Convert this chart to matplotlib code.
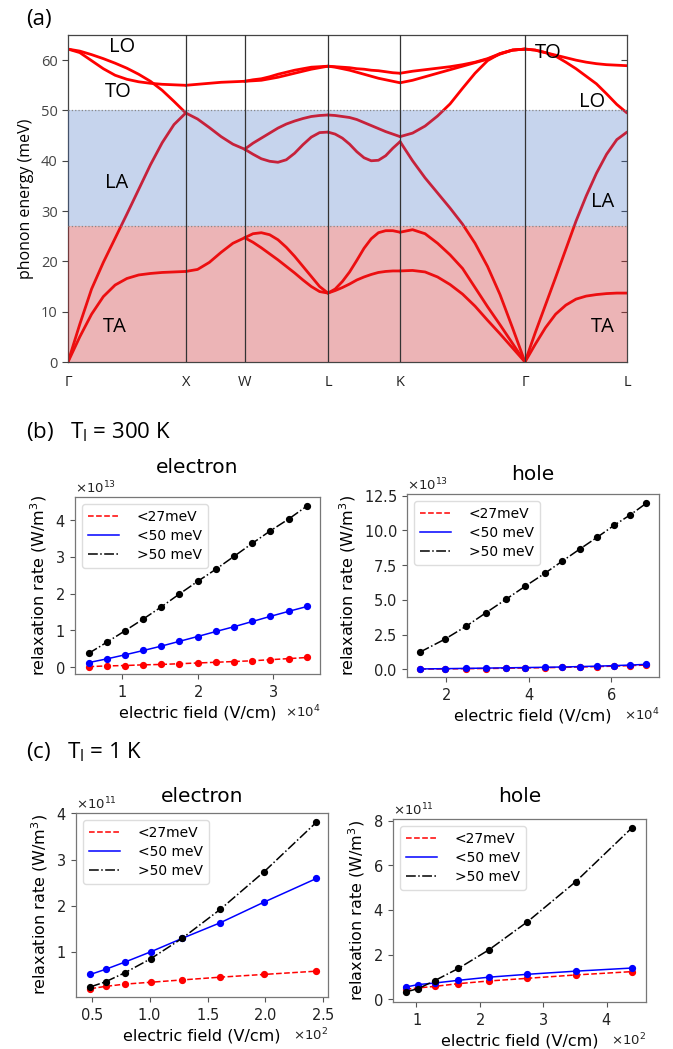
import numpy as np
import matplotlib
matplotlib.use('Agg')
import matplotlib.pyplot as plt
from matplotlib.ticker import ScalarFormatter

plt.rcParams['font.family'] = ['DejaVu Sans']

### (a) phonon dispersion, energies (meV) sampled evenly along each path segment
sym_labels = ['Γ', 'X', 'W', 'L', 'K', 'Γ', 'L']
seg_lengths = [1.0, 0.5, 0.7071, 0.6124, 1.0607, 0.8660]  # 2pi/a

seg_gx = [
    [0, 5.0, 9.5, 13.0, 15.3, 16.6, 17.3, 17.6, 17.8, 17.9, 18.0],
    [0, 7.5, 14.5, 19.8, 24.6, 29.4, 34.3, 39.2, 43.6, 47.2, 49.5],
    [62.2, 61.5, 59.9, 58.3, 57.0, 56.2, 55.7, 55.4, 55.2, 55.1, 55.0],
    [62.2, 61.8, 61.1, 60.3, 59.4, 58.4, 57.2, 55.8, 54.0, 51.8, 49.5],
]
seg_xw = [
    [18.0, 18.4, 19.8, 21.8, 23.6, 24.7],
    [49.5, 48.3, 46.6, 44.8, 43.3, 42.3],
    [55.0, 55.2, 55.4, 55.6, 55.7, 55.8],
]
seg_wl = [
    [24.7, 23.8, 22.7, 21.5, 20.3, 19.0, 17.7, 16.3, 15.0, 14.0, 13.7],
    [24.7, 25.5, 25.7, 25.3, 24.3, 22.8, 21.0, 19.0, 17.0, 15.0, 13.7],
    [42.3, 41.3, 40.4, 39.9, 39.7, 40.2, 41.5, 43.2, 44.7, 45.6, 45.7],
    [42.3, 43.5, 44.5, 45.5, 46.5, 47.3, 47.9, 48.4, 48.8, 49.0, 49.1],
    [55.8, 56.1, 56.3, 56.7, 57.2, 57.6, 58.0, 58.3, 58.6, 58.7, 58.8],
    [55.8, 55.9, 56.0, 56.3, 56.6, 57.0, 57.4, 57.8, 58.2, 58.5, 58.8],
]
seg_lk = [
    [13.7, 14.2, 14.8, 15.5, 16.3, 16.9, 17.4, 17.8, 18.0, 18.1, 18.1],
    [13.7, 14.5, 16.0, 17.9, 20.2, 22.6, 24.5, 25.7, 26.1, 26.1, 25.8],
    [45.7, 45.3, 44.5, 43.3, 41.8, 40.6, 40.0, 40.1, 41.0, 42.5, 43.8],
    [49.1, 49.0, 48.8, 48.6, 48.2, 47.6, 47.0, 46.4, 45.8, 45.3, 44.8],
    [58.8, 58.7, 58.6, 58.5, 58.3, 58.2, 58.0, 57.9, 57.7, 57.5, 57.4],
    [58.8, 58.6, 58.3, 58.0, 57.6, 57.2, 56.8, 56.4, 56.1, 55.8, 55.5],
]
seg_kg = [
    [18.1, 18.2, 17.9, 16.9, 15.4, 13.5, 11.1, 8.3, 5.6, 2.8, 0],
    [25.8, 26.3, 25.5, 23.6, 21.3, 18.6, 14.8, 11.0, 7.4, 3.7, 0],
    [43.8, 40.0, 36.6, 33.6, 30.6, 27.4, 23.6, 19.0, 13.4, 6.8, 0],
    [44.8, 45.5, 46.9, 48.9, 51.3, 54.4, 57.4, 59.9, 61.3, 62.0, 62.2],
    [57.4, 57.8, 58.1, 58.4, 58.7, 59.1, 59.6, 60.3, 61.3, 62.0, 62.2],
    [55.5, 56.0, 56.7, 57.4, 58.1, 58.8, 59.5, 60.2, 61.2, 62.0, 62.2],
]
seg_gl = [
    [0, 3.5, 6.8, 9.5, 11.3, 12.5, 13.1, 13.4, 13.6, 13.7, 13.7],
    [0, 5.8, 11.3, 16.8, 22.4, 28.0, 33.0, 37.5, 41.3, 44.2, 45.7],
    [62.2, 62.0, 61.5, 61.0, 60.5, 60.0, 59.6, 59.3, 59.1, 59.0, 58.9],
    [62.2, 62.0, 61.5, 60.8, 59.6, 58.3, 56.8, 55.3, 53.3, 51.2, 49.5],
]
segments = [seg_gx, seg_xw, seg_wl, seg_lk, seg_kg, seg_gl]

e_cut_low = 27   # meV
e_cut_high = 50

### (b) T = 300 K, field in 1e4 V/cm, rate in 1e13 W/m^3
field_b_e = [0.55, 0.79, 1.03, 1.28, 1.52, 1.76, 2.00, 2.25, 2.49, 2.73, 2.97, 3.22, 3.46]
low_b_e = [0.01, 0.03, 0.04, 0.06, 0.07, 0.09, 0.11, 0.13, 0.15, 0.17, 0.20, 0.23, 0.26]
mid_b_e = [0.12, 0.22, 0.33, 0.45, 0.57, 0.70, 0.83, 0.97, 1.10, 1.24, 1.38, 1.52, 1.65]
high_b_e = [0.37, 0.67, 0.98, 1.31, 1.64, 1.99, 2.33, 2.67, 3.02, 3.37, 3.71, 4.04, 4.39]

field_b_h = [1.37, 1.96, 2.48, 2.97, 3.45, 3.91, 4.38, 4.81, 5.23, 5.66, 6.06, 6.46, 6.84]
low_b_h = [0.02, 0.03, 0.05, 0.06, 0.08, 0.10, 0.12, 0.14, 0.17, 0.20, 0.23, 0.27, 0.31]
mid_b_h = [0.03, 0.05, 0.07, 0.09, 0.11, 0.13, 0.15, 0.17, 0.20, 0.23, 0.27, 0.31, 0.36]
high_b_h = [1.25, 2.16, 3.10, 4.09, 5.05, 5.98, 6.90, 7.79, 8.65, 9.52, 10.36, 11.13, 11.95]

### (c) T = 1 K, field in 1e2 V/cm, rate in 1e11 W/m^3
field_c_e = [0.49, 0.62, 0.79, 1.01, 1.28, 1.61, 1.99, 2.44]
low_c_e = [0.20, 0.25, 0.30, 0.34, 0.39, 0.45, 0.51, 0.58]
mid_c_e = [0.51, 0.62, 0.78, 1.00, 1.29, 1.63, 2.08, 2.59]
high_c_e = [0.24, 0.35, 0.55, 0.85, 1.29, 1.92, 2.74, 3.81]

field_c_h = [0.83, 1.03, 1.29, 1.66, 2.14, 2.75, 3.51, 4.40]
low_c_h = [0.45, 0.51, 0.58, 0.70, 0.82, 0.94, 1.09, 1.24]
mid_c_h = [0.55, 0.66, 0.73, 0.85, 0.99, 1.12, 1.26, 1.40]
high_c_h = [0.33, 0.48, 0.84, 1.38, 2.21, 3.47, 5.26, 7.68]

legend_labels = ['<27meV', '<50 meV', '>50 meV']

W, H = 673, 1049
fig = plt.figure(figsize=(W / 100, H / 100), dpi=100)


def rect(left, top, right, bottom):
    return [left / W, 1 - bottom / H, (right - left) / W, (bottom - top) / H]


### panel (a)
ax = fig.add_axes(rect(68, 35, 627, 362))
nodes = np.concatenate([[0], np.cumsum(seg_lengths)])
for i, seg in enumerate(segments):
    for branch in seg:
        k = np.linspace(nodes[i], nodes[i + 1], len(branch))
        ax.plot(k, branch, color='red', lw=2.0, zorder=2,
                solid_capstyle='round', solid_joinstyle='round')
ax.axhspan(0, e_cut_low, facecolor='#c9292e', alpha=0.35, lw=0, zorder=3)
ax.axhspan(e_cut_low, e_cut_high, facecolor='#4472c4', alpha=0.3, lw=0, zorder=3)
ax.axhline(e_cut_low, color='#888888', ls=':', lw=0.9, zorder=4)
ax.axhline(e_cut_high, color='#888888', ls=':', lw=0.9, zorder=4)
for xn in nodes[1:-1]:
    ax.axvline(xn, color='#333333', lw=0.9, zorder=4)
ax.set_xlim(nodes[0], nodes[-1])
ax.set_ylim(0, 65)
ax.set_xticks(nodes)
ax.set_xticklabels(sym_labels, family='Open Sans', fontsize=10.5, color='#222222')
ax.tick_params(axis='x', length=0, pad=9)
ax.set_yticks(np.arange(0, 61, 10))
ax.set_yticklabels([str(v) for v in range(0, 61, 10)], family='Open Sans',
                   fontsize=10.5, color='#444444')
ax.tick_params(axis='y', length=4, width=0.8, color='#444444')
sec = ax.secondary_yaxis('right')
sec.set_yticks(np.arange(10, 61, 10))
sec.tick_params(direction='in', length=4, width=0.8, color='#444444', labelright=False)
sec.spines['right'].set_visible(False)
for s in ax.spines.values():
    s.set_color('#444444')
    s.set_linewidth(0.9)
ax.set_ylabel('phonon energy (meV)', family='Open Sans', fontsize=11.5, labelpad=5)

band_labels = [('LO', 0.46, 62.6), ('TO', 0.43, 53.7), ('LA', 0.41, 35.6), ('TA', 0.40, 7.0),
               ('TO', 4.08, 61.4), ('LO', 4.45, 51.7), ('LA', 4.54, 31.8), ('TA', 4.54, 7.0)]
for txt, xt, yt in band_labels:
    ax.text(xt, yt, txt, family='Open Sans', fontsize=14.5, ha='center', va='center', zorder=5)

fig.text(26 / W, 1 - 19 / H, '(a)', family='Open Sans', fontsize=16, va='center')
fig.text(26 / W, 1 - 432 / H, r'(b)   $\mathregular{T_l}$ = 300 K', family='Open Sans',
         fontsize=16, va='center')
fig.text(26 / W, 1 - 752 / H, r'(c)   $\mathregular{T_l}$ = 1 K', family='Open Sans',
         fontsize=16, va='center')


### rate panels
def rate_panel(box, title, field, low, mid, high, xexp, yexp, xlim, ylim,
               yticks=None, title_pad=14):
    ax = fig.add_axes(box)
    x = np.asarray(field) * 10.0 ** xexp
    styles = [(low, 'red', '--'), (mid, 'blue', '-'), (high, 'black', '-.')]
    for (vals, color, ls), lab in zip(styles, legend_labels):
        y = np.asarray(vals) * 10.0 ** yexp
        ax.plot(x, y, color=color, ls=ls, lw=1.1, label=lab)
        ax.plot(x, y, 'o', color=color, ms=4.2)
    ax.set_xlim(xlim[0] * 10.0 ** xexp, xlim[1] * 10.0 ** xexp)
    ax.set_ylim(ylim[0] * 10.0 ** yexp, ylim[1] * 10.0 ** yexp)
    if yticks is not None:
        ax.set_yticks(np.asarray(yticks) * 10.0 ** yexp)
    for axis, ex in ((ax.xaxis, xexp), (ax.yaxis, yexp)):
        fmt = ScalarFormatter(useMathText=True)
        fmt.set_powerlimits((ex, ex))
        axis.set_major_formatter(fmt)
        axis.get_offset_text().set_fontsize(9.5)
        axis.get_offset_text().set_color('#222222')
    ax.tick_params(labelsize=10.5, length=3.5, width=0.8, color='#555555', labelcolor='#222222')
    for s in ax.spines.values():
        s.set_color('#777777')
        s.set_linewidth(0.9)
    ax.set_title(title, fontsize=14.5, pad=title_pad)
    ax.set_xlabel('electric field (V/cm)', fontsize=11.5, labelpad=4)
    ax.set_ylabel('relaxation rate (W/m$^3$)', fontsize=11.5, labelpad=4)
    ax.legend(loc='upper left', fontsize=10, handlelength=2.2, handletextpad=1.3,
              labelspacing=0.35, borderpad=0.45, framealpha=1, edgecolor='#dddddd')
    return ax


rate_panel(rect(75, 497, 320, 674), 'electron', field_b_e, low_b_e, mid_b_e, high_b_e,
           4, 13, (0.37, 3.63), (-0.19, 4.63), yticks=[0, 1, 2, 3, 4], title_pad=17)
rate_panel(rect(407, 494, 659, 677), 'hole', field_b_h, low_b_h, mid_b_h, high_b_h,
           4, 13, (1.05, 7.15), (-0.55, 12.62), yticks=[0, 2.5, 5, 7.5, 10, 12.5],
           title_pad=10)
rate_panel(rect(76, 813, 328, 997), 'electron', field_c_e, low_c_e, mid_c_e, high_c_e,
           2, 11, (0.365, 2.54), (0.02, 4.01), yticks=[1, 2, 3, 4], title_pad=8)
rate_panel(rect(393, 819, 646, 1002), 'hole', field_c_h, low_c_h, mid_c_h, high_c_h,
           2, 11, (0.63, 4.62), (-0.12, 8.07), yticks=[0, 2, 4, 6, 8], title_pad=12.5)

fig.savefig('out.png', dpi=100)
